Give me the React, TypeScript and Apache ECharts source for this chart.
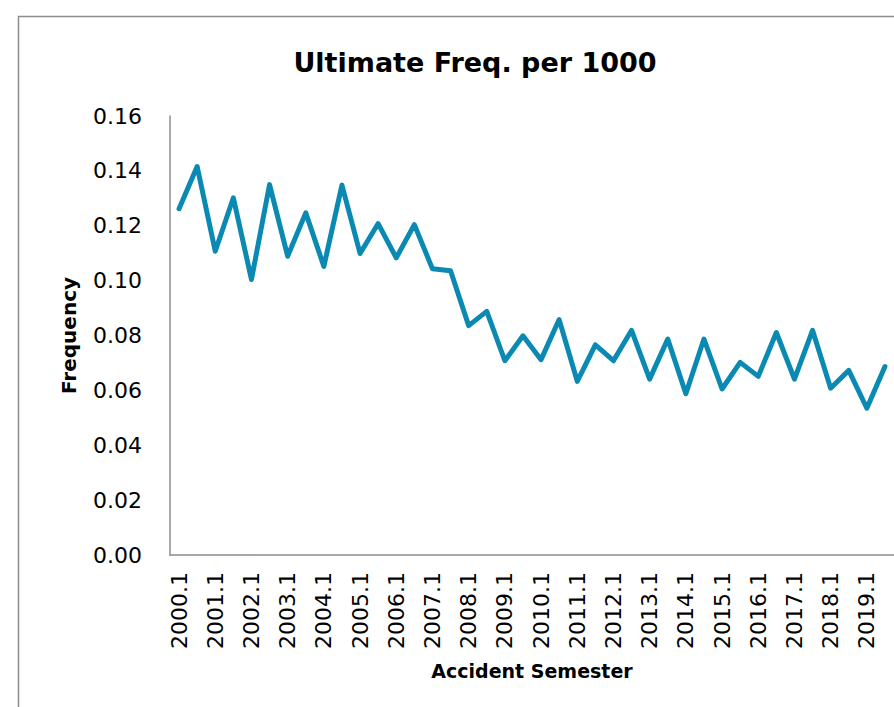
import React, { useEffect, useRef } from "react";
import * as echarts from "echarts";

const years: number[] = [];
for (let y = 2000; y <= 2019; y++) years.push(y);
const categories: string[] = years.flatMap((y) => [`${y}.1`, `${y}.2`]);

const frequency = [
  0.1262, 0.1416, 0.1107, 0.1302, 0.1004, 0.135, 0.1089, 0.1247, 0.1052, 0.1348,
  0.1099, 0.1208, 0.1083, 0.1204, 0.1043, 0.1036, 0.0836, 0.0888, 0.0708, 0.0799,
  0.0712, 0.0858, 0.0633, 0.0766, 0.0708, 0.0819, 0.0641, 0.0787, 0.0588, 0.0787,
  0.0605, 0.0702, 0.0651, 0.0811, 0.0641, 0.0819, 0.0608, 0.0673, 0.0535, 0.0687,
];

const yTicks = { min: 0, max: 0.16, interval: 0.02 };

const FONT = "'DejaVu Sans', 'Noto Sans', sans-serif";

export default function App() {
  const ref = useRef<HTMLDivElement>(null);
  useEffect(() => {
    if (!ref.current) return;
    const chart = echarts.init(ref.current, undefined, { renderer: "svg" });
    chart.setOption({
      animation: false,
      backgroundColor: "#ffffff",
      textStyle: { fontFamily: FONT },
      title: {
        text: "Ultimate Freq. per 1000",
        left: 470,
        top: 44,
        textAlign: "center",
        textStyle: { fontFamily: FONT, fontWeight: "bold", fontSize: 27, color: "#000" },
      },
      graphic: [
        {
          type: "rect",
          shape: { x: 18.5, y: 16.5, width: 1000, height: 1000 },
          style: { fill: "none", stroke: "#8c8c8c", lineWidth: 1.5 },
          silent: true,
        },
      ],
      grid: { left: 170, right: -2, top: 116, bottom: 152 },
      xAxis: {
        type: "category",
        data: categories,
        boundaryGap: true,
        name: "Accident Semester",
        nameLocation: "middle",
        nameGap: 106,
        nameMoveOverlap: false,
        nameTextStyle: { fontFamily: FONT, fontWeight: "bold", fontSize: 19, color: "#000" },
        axisLine: { lineStyle: { color: "#8c8c8c", width: 1.5 } },
        axisTick: { show: false },
        axisLabel: {
          interval: 1,
          rotate: 90,
          margin: 17,
          fontFamily: FONT,
          fontSize: 22,
          color: "#000",
        },
        splitLine: { show: false },
      },
      yAxis: {
        type: "value",
        min: yTicks.min,
        max: yTicks.max,
        interval: yTicks.interval,
        name: "Frequency",
        nameLocation: "middle",
        nameGap: 91,
        nameRotate: 90,
        nameMoveOverlap: false,
        nameTextStyle: { fontFamily: FONT, fontWeight: "bold", fontSize: 20, color: "#000" },
        axisLine: { show: true, lineStyle: { color: "#8c8c8c", width: 1.5 } },
        axisTick: { show: false },
        splitLine: { show: false },
        axisLabel: {
          margin: 28,
          fontFamily: FONT,
          fontSize: 22,
          color: "#000",
          formatter: (v: number) => v.toFixed(2),
        },
      },
      series: [
        {
          type: "line",
          data: frequency,
          symbol: "none",
          lineStyle: { color: "#0A8AB2", width: 5, join: "round", cap: "round" },
        },
      ],
    });
    return () => chart.dispose();
  }, []);
  return (
    <div
      ref={ref}
      style={{ position: "fixed", left: 0, top: 0, width: 894, height: 707, background: "#fff" }}
    />
  );
}
